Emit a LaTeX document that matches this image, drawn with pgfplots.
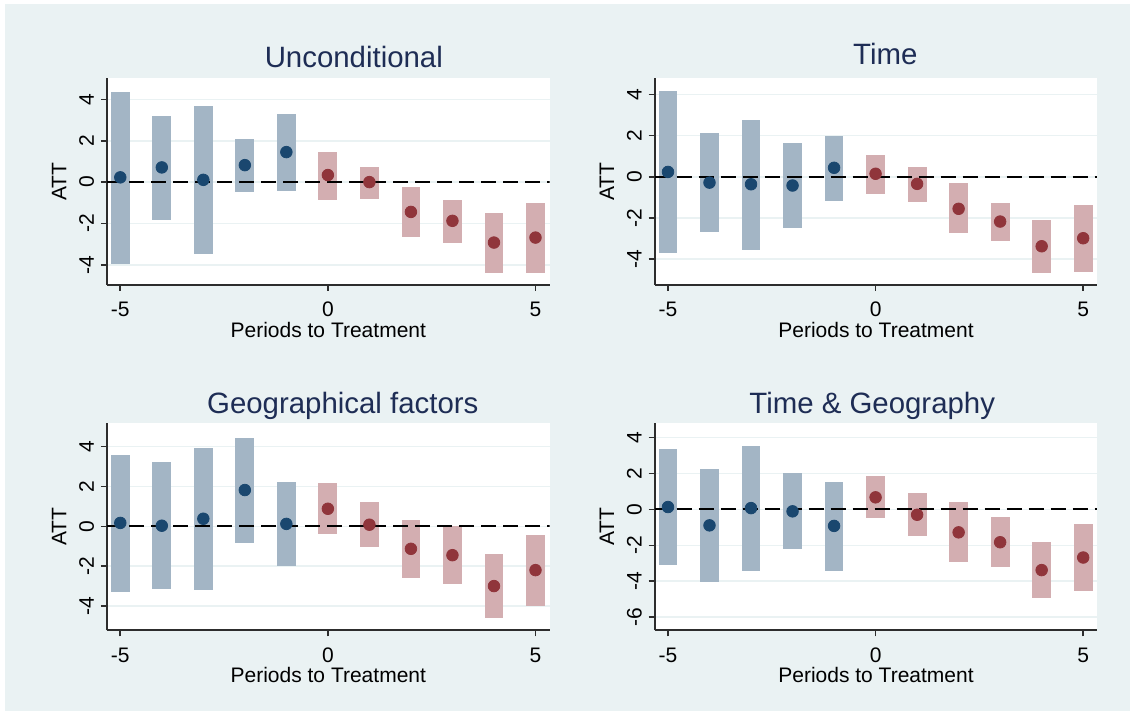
\documentclass[border=0pt]{standalone}
\usepackage{pgfplots}
\pgfplotsset{compat=1.18}
\usepackage{pgfplotstable}
\usepackage{fontspec}
\setmainfont{Liberation Sans}
\definecolor{bgcol}{RGB}{234,242,243}
\definecolor{navy}{RGB}{26,71,111}
\definecolor{maroon}{RGB}{144,53,59}
\definecolor{barblue}{RGB}{163,181,197}
\definecolor{barred}{RGB}{211,174,177}
\definecolor{titlecol}{RGB}{30,45,85}
\definecolor{axiscol}{RGB}{45,45,45}

\pgfplotstableread{
x est lo hi
-5 0.23 -3.95 4.37
-4 0.71 -1.85 3.21
-3 0.11 -3.47 3.69
-2 0.82 -0.50 2.10
-1 1.45 -0.42 3.31
0 0.34 -0.85 1.47
1 0.00 -0.81 0.74
2 -1.44 -2.65 -0.23
3 -1.87 -2.92 -0.85
4 -2.92 -4.37 -1.48
5 -2.68 -4.37 -1.00
}\dataA
\pgfplotstableread{
x est lo hi
-5 0.24 -3.68 4.18
-4 -0.28 -2.70 2.14
-3 -0.36 -3.53 2.77
-2 -0.42 -2.48 1.65
-1 0.44 -1.15 1.99
0 0.15 -0.81 1.07
1 -0.34 -1.20 0.49
2 -1.55 -2.75 -0.29
3 -2.17 -3.09 -1.26
4 -3.37 -4.65 -2.09
5 -2.98 -4.60 -1.36
}\dataB
\pgfplotstableread{
x est lo hi
-5 0.17 -3.28 3.58
-4 0.03 -3.15 3.25
-3 0.38 -3.20 3.95
-2 1.82 -0.83 4.45
-1 0.12 -2.00 2.20
0 0.88 -0.38 2.15
1 0.08 -1.03 1.20
2 -1.13 -2.60 0.30
3 -1.45 -2.90 0.00
4 -3.00 -4.58 -1.40
5 -2.20 -4.00 -0.45
}\dataC
\pgfplotstableread{
x est lo hi
-5 0.13 -3.09 3.36
-4 -0.89 -4.03 2.22
-3 0.07 -3.42 3.55
-2 -0.11 -2.20 2.00
-1 -0.92 -3.42 1.55
0 0.67 -0.48 1.83
1 -0.30 -1.48 0.89
2 -1.28 -2.92 0.39
3 -1.83 -3.20 -0.44
4 -3.38 -4.92 -1.83
5 -2.68 -4.53 -0.83
}\dataD

\pgfplotsset{
  panel/.style={
    scale only axis, width=221.3pt, height=103.5pt,
    anchor=south west,
    xmin=-5.32, xmax=5.34,
    axis lines=left,
    axis line style={-, draw=axiscol, line width=0.9pt},
    axis background/.style={fill=white},
    xtick={-5,0,5}, xticklabels={-5,0,5},
    tick align=outside, major tick length=3pt,
    tick style={draw=axiscol, line width=0.8pt},
    minor tick num=0,
    ymajorgrids, major grid style={draw=bgcol, line width=0.8pt},
    tick label style={font=\fontsize{10.5}{12}\selectfont},
    xticklabel style={anchor=base, yshift=-13pt},
    yticklabel style={xshift=-3.5pt, rotate=90, anchor=base},
    label style={font=\fontsize{10.5}{12}\selectfont},
    xlabel={Periods to Treatment}, ylabel={ATT},
    xlabel style={at={(axis description cs:0.5,0)}, anchor=base, yshift=-26.15pt},
    ylabel style={at={(axis description cs:-0.0915,0.5)}, anchor=base},
    every axis title shift=0pt,
    title style={font=\fontsize{14.7}{17}\selectfont, color=titlecol, anchor=base},
  },
  ci/.style={forget plot, only marks, mark=none,
    error bars/y dir=both, error bars/y explicit, error bars/error mark=none,
    error bars/error bar style={line width=9.4pt, draw=#1, solid}},
  pre/.style={restrict x to domain=-5.5:-0.5},
  post/.style={restrict x to domain=-0.5:5.5},
  zeroline/.style={forget plot, black, line width=1pt, dash pattern=on 7.5pt off 3.5pt},
  est/.style={only marks, mark=*, mark size=2.9pt, color=#1, mark options={solid}},
}

\newcommand{\panelplots}[1]{%
  \addplot[ci=barblue, pre] table[x=x, y=est, y error plus expr=\thisrow{hi}-\thisrow{est}, y error minus expr=\thisrow{est}-\thisrow{lo}] {#1};
  \addplot[ci=barred, post] table[x=x, y=est, y error plus expr=\thisrow{hi}-\thisrow{est}, y error minus expr=\thisrow{est}-\thisrow{lo}] {#1};
  \addplot[zeroline] coordinates {(-5.32,0) (5.34,0)};
  \addplot[est=navy, pre] table[x=x, y=est] {#1};
  \addplot[est=maroon, post] table[x=x, y=est] {#1};
}

\begin{document}
\begin{tikzpicture}
\useasboundingbox (0,0) rectangle (565pt,355.5pt);
\fill[white] (0,0) rectangle (565pt,355.5pt);
\fill[bgcol] (2.5pt,0) rectangle (565pt,353.5pt);

\begin{axis}[panel, at={(53.5pt,213pt)}, ymin=-4.97, ymax=5.03,
  ytick={-4,-2,0,2,4}, yticklabels={-4,-2,0,2,4},
  title={Unconditional}, title style={at={(axis description cs:0.5577,1.0483)}}]
\panelplots{\dataA}
\end{axis}

\begin{axis}[panel, at={(327.35pt,213pt)}, ymin=-5.25, ymax=4.80,
  ytick={-4,-2,0,2,4}, yticklabels={-4,-2,0,2,4},
  title={Time}, title style={at={(axis description cs:0.5209,1.064)}}]
\panelplots{\dataB}
\end{axis}

\begin{axis}[panel, at={(53.5pt,40.35pt)}, ymin=-5.22, ymax=5.17,
  ytick={-4,-2,0,2,4}, yticklabels={-4,-2,0,2,4},
  title={Geographical factors}, title style={at={(axis description cs:0.5327,1.0454)}}]
\panelplots{\dataC}
\end{axis}

\begin{axis}[panel, at={(327.35pt,40.35pt)}, ymin=-6.73, ymax=4.79,
  ytick={-6,-4,-2,0,2,4}, yticklabels={-6,-4,-2,0,2,4},
  title={Time \& Geography}, title style={at={(axis description cs:0.4915,1.0454)}}]
\panelplots{\dataD}
\end{axis}
\end{tikzpicture}
\end{document}
